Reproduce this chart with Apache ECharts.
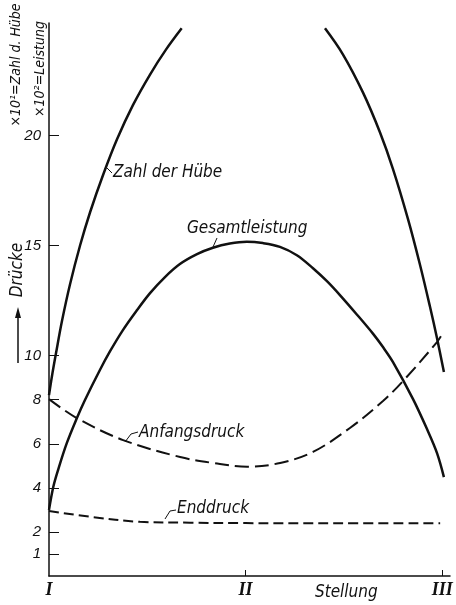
<!DOCTYPE html>
<html>
<head>
<meta charset="utf-8">
<script src="https://cdn.jsdelivr.net/npm/echarts@6/dist/echarts.min.js"></script>
<style>
  html, body { margin: 0; padding: 0; background: #fff; }
  #chart { width: 456px; height: 605px; }
</style>
</head>
<body>
<div id="chart"></div>
<script>
// Stellung: I = 0, II = 1, III = 2
const stellungLabels = ['I', 'II', 'III'];
const yTickValues = [1, 2, 4, 6, 8, 10, 15, 20];

// Zahl der Hübe (x10^1) - linker und rechter Ast, Mitte oberhalb des Bildes
const zahlLinksX = [0, 0.015, 0.036, 0.066, 0.107, 0.158, 0.209, 0.275, 0.346, 0.427, 0.514, 0.595, 0.675];
const zahlLinksY = [8.21, 9.07, 10.13, 11.57, 13.24, 15.0, 16.51, 18.2, 19.82, 21.37, 22.76, 23.89, 24.86];
const zahlRechtsX = [1.404, 1.495, 1.597, 1.684, 1.75, 1.826, 1.887, 1.938, 1.974, 2.009];
const zahlRechtsY = [24.86, 23.68, 21.95, 20.13, 18.47, 16.21, 14.14, 12.23, 10.79, 9.26];

// Gesamtleistung (x10^2)
const leistungX = [0, 0.022, 0.046, 0.09, 0.142, 0.183, 0.259, 0.31, 0.376, 0.448, 0.514, 0.59, 0.666, 0.753, 0.834, 0.92, 1.006, 1.088, 1.175, 1.261, 1.343, 1.414, 1.48, 1.567, 1.648, 1.699, 1.75, 1.852, 1.923, 1.974, 2.009];
const leistungY = [3.0, 4.05, 4.81, 6.02, 7.17, 7.99, 9.35, 10.19, 11.16, 12.07, 12.84, 13.57, 14.16, 14.61, 14.9, 15.09, 15.17, 15.11, 14.94, 14.56, 13.97, 13.38, 12.75, 11.86, 11.0, 10.39, 9.71, 8.03, 6.67, 5.58, 4.49];

// Anfangsdruck
const anfangX = [0, 0.141, 0.377, 0.667, 0.835, 1.008, 1.176, 1.343, 1.531, 1.699, 1.801, 1.974, 2.004];
const anfangY = [8.03, 7.17, 6.17, 5.4, 5.13, 4.96, 5.13, 5.63, 6.72, 7.94, 8.85, 10.62, 11.03];

// Enddruck
const endX = [0, 0.209, 0.463, 0.718, 1.0, 1.48, 1.99];
const endY = [2.95, 2.69, 2.46, 2.42, 2.4, 2.39, 2.39];

const pairs = (xs, ys) => xs.map((x, i) => [x, ys[i]]);

const fontList = "'Liberation Sans Narrow', 'DejaVu Sans Condensed', 'Liberation Sans', sans-serif";
const txtFont = 'italic 17px ' + fontList;
const smallFont = 'italic 14px ' + fontList;
const ink = '#111';

const chart = echarts.init(document.getElementById('chart'));

const lineSeries = (name, data, width, dash) => ({
  name: name,
  type: 'line',
  data: data,
  smooth: 0.35,
  symbol: 'none',
  clip: true,
  lineStyle: { color: ink, width: width, type: dash || 'solid', cap: 'butt' },
  emphasis: { disabled: true }
});

chart.setOption({
  backgroundColor: '#fff',
  animation: false,
  grid: { left: 49, right: 6, top: 23, bottom: 29 },
  xAxis: {
    type: 'value',
    min: 0,
    max: 2.04,
    splitLine: { show: false },
    axisLine: { lineStyle: { color: ink, width: 1.5 } },
    axisTick: { show: true, inside: true, length: 6, customValues: [1, 2], lineStyle: { color: ink } },
    axisLabel: {
      customValues: [0, 1, 2],
      formatter: v => stellungLabels[Math.round(v)],
      margin: 5,
      color: ink,
      fontFamily: "'Liberation Serif', 'DejaVu Serif', serif",
      fontStyle: 'italic',
      fontWeight: 'bold',
      fontSize: 18
    }
  },
  yAxis: {
    type: 'value',
    min: 0,
    max: 25.1,
    splitLine: { show: false },
    axisLine: { show: true, lineStyle: { color: ink, width: 1.5 } },
    axisTick: { show: true, inside: true, length: 10, customValues: yTickValues, lineStyle: { color: ink } },
    axisLabel: {
      customValues: yTickValues,
      margin: 8,
      color: ink,
      fontFamily: "'Liberation Sans', sans-serif",
      fontStyle: 'italic',
      fontSize: 15
    }
  },
  series: [
    lineSeries('Zahl der Hübe', pairs(zahlLinksX, zahlLinksY), 2.5),
    lineSeries('Zahl der Hübe ', pairs(zahlRechtsX, zahlRechtsY), 2.5),
    lineSeries('Gesamtleistung', pairs(leistungX, leistungY), 2.5),
    lineSeries('Anfangsdruck', pairs(anfangX, anfangY), 2, [14, 6]),
    lineSeries('Enddruck', pairs(endX, endY), 2, [10, 5])
  ],
  graphic: [
    // Kurvenbeschriftungen mit Hinweisstrichen
    { type: 'polyline', shape: { points: [[105, 166], [112, 173]] }, style: { stroke: ink, lineWidth: 1 } },
    { type: 'text', x: 113, y: 173, style: { text: 'Zahl der Hübe', font: txtFont, fill: ink, align: 'left', verticalAlign: 'middle' } },
    { type: 'polyline', shape: { points: [[213, 247], [217, 238]] }, style: { stroke: ink, lineWidth: 1 } },
    { type: 'text', x: 187, y: 229, style: { text: 'Gesamtleistung', font: txtFont, fill: ink, align: 'left', verticalAlign: 'middle' } },
    { type: 'polyline', shape: { points: [[125, 442], [131, 434], [138, 432]] }, style: { stroke: ink, lineWidth: 1 } },
    { type: 'text', x: 139, y: 433, style: { text: 'Anfangsdruck', font: txtFont, fill: ink, align: 'left', verticalAlign: 'middle' } },
    { type: 'polyline', shape: { points: [[165, 519], [170, 511], [176, 510]] }, style: { stroke: ink, lineWidth: 1 } },
    { type: 'text', x: 177, y: 509, style: { text: 'Enddruck', font: txtFont, fill: ink, align: 'left', verticalAlign: 'middle' } },
    // Achsentitel
    { type: 'text', x: 315, y: 593, style: { text: 'Stellung', font: txtFont, fill: ink, align: 'left', verticalAlign: 'middle' } },
    { type: 'text', x: 16, y: 65, rotation: Math.PI / 2, style: { text: '×10¹=Zahl d. Hübe', font: smallFont, fill: ink, align: 'center', verticalAlign: 'middle' } },
    { type: 'text', x: 40, y: 69, rotation: Math.PI / 2, style: { text: '×10²=Leistung', font: smallFont, fill: ink, align: 'center', verticalAlign: 'middle' } },
    { type: 'text', x: 18, y: 270, rotation: Math.PI / 2, style: { text: 'Drücke', font: txtFont, fill: ink, align: 'center', verticalAlign: 'middle' } },
    // Pfeil nach oben
    { type: 'line', shape: { x1: 18, y1: 363, x2: 18, y2: 316 }, style: { stroke: ink, lineWidth: 1.5 } },
    { type: 'polygon', shape: { points: [[18, 307], [15, 318], [21, 318]] }, style: { fill: ink } }
  ]
});
</script>
</body>
</html>
